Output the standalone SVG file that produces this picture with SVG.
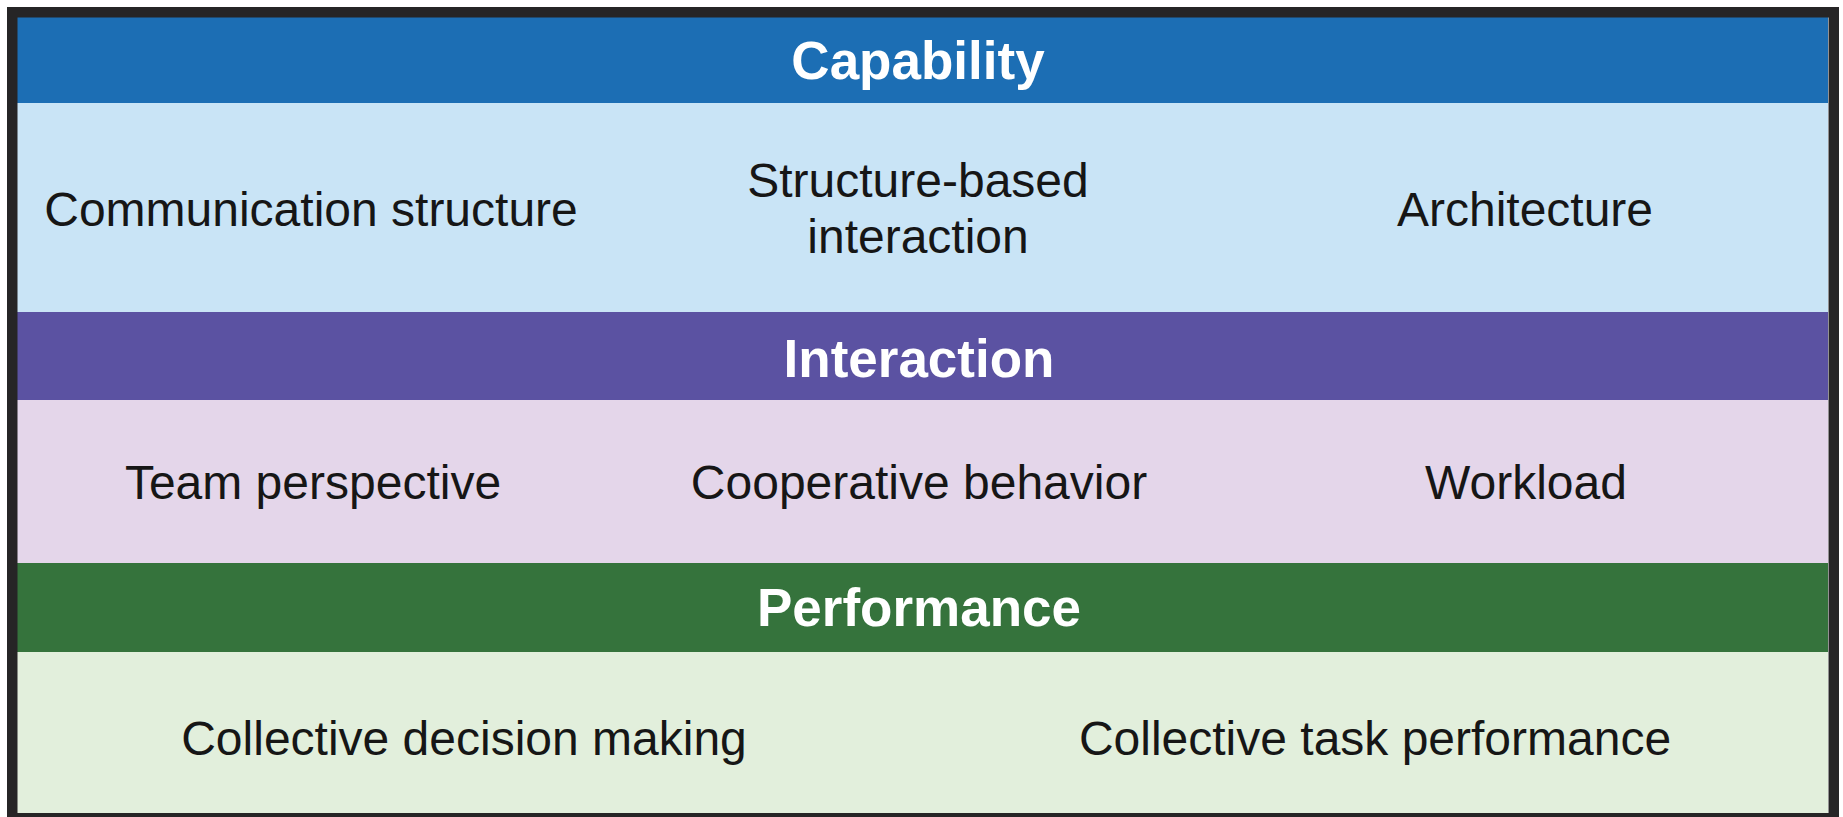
<svg xmlns="http://www.w3.org/2000/svg" width="1843" height="817" viewBox="0 0 1843 817">
  <style>
    .hd { font-family: "Liberation Sans", Arial, sans-serif; font-weight: bold; font-size: 53px; fill: #ffffff; text-anchor: middle; }
    .it { font-family: "Liberation Sans", Arial, sans-serif; font-size: 48px; fill: #161616; text-anchor: middle; }
  </style>
  <rect x="0" y="0" width="1843" height="817" fill="#ffffff"/>
  <g id="capability">
    <rect x="17" y="17" width="1811" height="86" fill="#1c6eb4"/>
    <text class="hd" x="918" y="79">Capability</text>
  </g>
  <g id="capability-items">
    <rect x="17" y="103" width="1811" height="209" fill="#c9e4f6"/>
    <text class="it" x="311" y="226">Communication structure</text>
    <text class="it" x="918" y="197">Structure-based</text>
    <text class="it" x="918" y="253">interaction</text>
    <text class="it" x="1525" y="226">Architecture</text>
  </g>
  <g id="interaction">
    <rect x="17" y="312" width="1811" height="88" fill="#5b52a2"/>
    <text class="hd" x="919" y="377">Interaction</text>
  </g>
  <g id="interaction-items">
    <rect x="17" y="400" width="1811" height="163" fill="#e4d6ea"/>
    <text class="it" x="313" y="499">Team perspective</text>
    <text class="it" x="919" y="499">Cooperative behavior</text>
    <text class="it" x="1526" y="499">Workload</text>
  </g>
  <g id="performance">
    <rect x="17" y="563" width="1811" height="89" fill="#35733c"/>
    <text class="hd" x="919" y="626">Performance</text>
  </g>
  <g id="performance-items">
    <rect x="17" y="652" width="1811" height="161" fill="#e2efdc"/>
    <text class="it" x="464" y="755">Collective decision making</text>
    <text class="it" x="1375" y="755">Collective task performance</text>
  </g>
  <g id="connectors"></g>
  <rect x="12.25" y="12.25" width="1821.5" height="806" fill="none" stroke="#262526" stroke-width="10.5"/>
</svg>
